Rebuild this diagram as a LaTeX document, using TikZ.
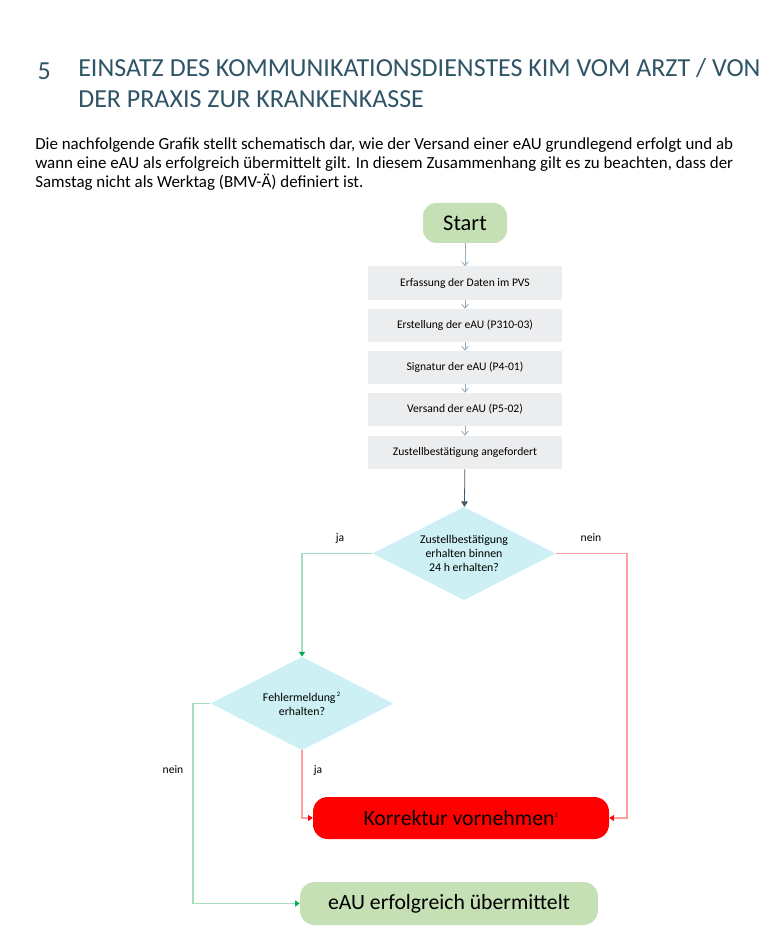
\documentclass[tikz,border=0pt]{standalone}
\usepackage{fontspec}
\setmainfont{Carlito}
\usepackage{tikz}
\usetikzlibrary{arrows.meta, positioning, calc, shapes.geometric}
\usepackage{xcolor}
\definecolor{headteal}{RGB}{46,84,102}
\definecolor{startgreen}{RGB}{197,224,180}
\definecolor{stepgray}{RGB}{236,237,239}
\definecolor{askcyan}{RGB}{204,240,243}
\definecolor{flowgray}{RGB}{150,170,186}
\definecolor{flowdark}{RGB}{64,90,106}
\definecolor{yesgreen}{RGB}{168,222,190}
\definecolor{tipgreen}{RGB}{0,176,80}
\definecolor{nored}{RGB}{255,160,160}

\tikzset{
  stepbox/.style={fill=stepgray, minimum width=145.5pt, minimum height=24.75pt, inner sep=0pt, font=\fontsize{8.7}{10}\selectfont},
  endbox/.style={rounded corners=11pt, minimum height=31.5pt, inner sep=0pt, font=\fontsize{16.3}{19}\selectfont},
  askbox/.style={diamond, shape aspect=2, fill=askcyan, inner sep=0pt, minimum width=137pt, minimum height=70pt, align=center, font=\fontsize{8.9}{10.5}\selectfont},
  smallarrow/.style={draw=flowgray, line width=0.6pt, -{Straight Barb[length=3pt, width=5pt]}},
  yesline/.style={draw=yesgreen, line width=1pt, -{Triangle[length=3.5pt, width=4.5pt, color=tipgreen]}},
  noline/.style={draw=nored, line width=1pt, -{Triangle[length=3.5pt, width=4.5pt, color=red]}},
  tag/.style={font=\fontsize{8.7}{10}\selectfont}
}

\begin{document}
\begin{tikzpicture}[x=0.75pt, y=-0.75pt]
  \useasboundingbox (0,0) rectangle (783,948);
  % Heading and intro text
  \node[anchor=west, headteal, font=\fontsize{19.5}{23.25}\selectfont] (num) at (33,71) {5};
  \node[anchor=north west, headteal, align=left, inner sep=0pt, font=\fontsize{19.5}{23.25}\selectfont] (title) at (78,58)
    {EINSATZ DES KOMMUNIKATIONSDIENSTES KIM VOM ARZT / VON\\DER PRAXIS ZUR KRANKENKASSE};
  \node[anchor=north west, align=left, inner sep=0pt, font=\fontsize{12.7}{14.4}\selectfont] (intro) at (35,137)
    {Die nachfolgende Grafik stellt schematisch dar, wie der Versand einer eAU grundlegend erfolgt und ab\\
     wann eine eAU als erfolgreich übermittelt gilt. In diesem Zusammenhang gilt es zu beachten, dass der\\
     Samstag nicht als Werktag (BMV-Ä) definiert ist.};
  % Start and steps
  \node[endbox, fill=startgreen, minimum width=63pt, minimum height=30pt, rounded corners=10pt, font=\fontsize{16.8}{19}\selectfont] (start) at (465,223) {Start};
  \node[stepbox] (s1) at (465,283) {Erfassung der Daten im PVS};
  \node[stepbox] (s2) at (465,325.5) {Erstellung der eAU (P310-03)};
  \node[stepbox] (s3) at (465,367.5) {Signatur der eAU (P4-01)};
  \node[stepbox] (s4) at (465,409.5) {Versand der eAU (P5-02)};
  \node[stepbox] (s5) at (465,452.5) {Zustellbestätigung angefordert};
  \draw[smallarrow] (start) -- (s1);
  \draw[smallarrow] (s1) -- (s2);
  \draw[smallarrow] (s2) -- (s3);
  \draw[smallarrow] (s3) -- (s4);
  \draw[smallarrow] (s4) -- (s5);
  % Decisions
  \node[askbox] (ask1) at (464,553.5) {Zustellbestätigung\\erhalten binnen\\24 h erhalten?};
  \node[askbox] (ask2) at (302,703.5) {Fehlermeldung\textsuperscript{\,\tiny 2}\\erhalten?};
  \draw[draw=flowdark, line width=0.6pt, -{Triangle[length=4pt, width=5pt]}] (s5) -- (ask1);
  % Outcomes
  \node[endbox, fill=red, minimum width=222pt] (fix) at (461,818) {Korrektur vornehmen\textsuperscript{\tiny 1}};
  \node[endbox, fill=startgreen, minimum width=223.5pt, minimum height=32.25pt] (done) at (449,903.5) {eAU erfolgreich übermittelt};
  \coordinate (r1) at (627,553.5);
  \coordinate (l1) at (193,703.5);
  \draw[yesline] (ask1.west) -| (ask2.north);
  \draw[noline] (ask1.east) -- (r1) |- (fix.east);
  \draw[noline] (ask2.south) |- (fix.west);
  \draw[yesline] (ask2.west) -- (l1) |- (done.west);
  % Branch labels
  \node[tag] (ja1) at (340,538) {ja};
  \node[tag] (nein1) at (591,538) {nein};
  \node[tag] (nein2) at (173,770) {nein};
  \node[tag] (ja2) at (318,770) {ja};
\end{tikzpicture}
\end{document}
